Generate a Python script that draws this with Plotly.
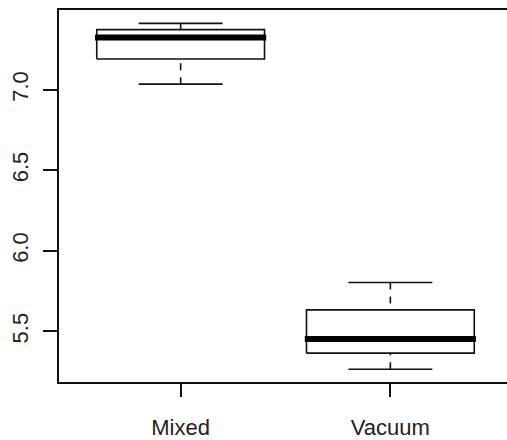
import plotly.graph_objects as go

categories = ["Mixed", "Vacuum"]
lower_whisker = [7.035, 5.265]
q1 = [7.191, 5.365]
median = [7.325, 5.453]
q3 = [7.373, 5.634]
upper_whisker = [7.412, 5.804]
y_ticks = [5.5, 6.0, 6.5, 7.0]
y_tick_labels = ["5.5", "6.0", "6.5", "7.0"]

BOX_HALF = 0.4
STAPLE_HALF = 0.2
LINE_COLOR = "#111111"
LW = 1.6
FONT = dict(family="Liberation Sans, Arial, sans-serif", size=22, color="#222222")

fig = go.Figure()
for i, cat in enumerate(categories):
    c = i + 1
    for end, hinge in ((lower_whisker[i], q1[i]), (upper_whisker[i], q3[i])):
        fig.add_trace(go.Scatter(x=[c, c], y=[end, hinge], mode="lines",
                                 line=dict(color=LINE_COLOR, width=LW, dash="7px,7px"),
                                 hoverinfo="skip"))
        fig.add_trace(go.Scatter(x=[c - STAPLE_HALF, c + STAPLE_HALF], y=[end, end], mode="lines",
                                 line=dict(color=LINE_COLOR, width=LW), hoverinfo="skip"))
    fig.add_trace(go.Scatter(
        x=[c - BOX_HALF, c + BOX_HALF, c + BOX_HALF, c - BOX_HALF, c - BOX_HALF],
        y=[q1[i], q1[i], q3[i], q3[i], q1[i]], mode="lines",
        line=dict(color=LINE_COLOR, width=LW), hoverinfo="skip", name=cat))
    fig.add_trace(go.Scatter(x=[c - BOX_HALF - 0.008, c + BOX_HALF + 0.008], y=[median[i], median[i]],
                             mode="lines", line=dict(color="#000000", width=6), hoverinfo="skip"))

# The R plot region runs slightly past the right edge of the 507px picture;
# the figure is made wider and the window crops it.
fig.update_layout(
    template="none",
    width=530, height=440,
    margin=dict(l=59, r=18, t=10, b=58),
    paper_bgcolor="white", plot_bgcolor="white",
    showlegend=False,
    font=FONT,
    xaxis=dict(range=[0.42, 2.58], tickvals=[1, 2], ticktext=categories,
               ticks="outside", ticklen=13, tickwidth=LW, tickcolor=LINE_COLOR,
               showline=True, linecolor=LINE_COLOR, linewidth=LW, mirror=True,
               showgrid=False, zeroline=False, ticklabelstandoff=12, tickfont=FONT,
               automargin=False),
    yaxis=dict(range=[5.186, 5.186 + 372 / 161.1], tickvals=y_ticks, ticktext=y_tick_labels,
               tickangle=-90, ticks="outside", ticklen=14, tickwidth=LW, tickcolor=LINE_COLOR,
               showline=True, linecolor=LINE_COLOR, linewidth=LW, mirror=True,
               showgrid=False, zeroline=False, ticklabelstandoff=6, tickfont=FONT,
               automargin=False),
)

fig.write_html(
    "out.html",
    config={"displayModeBar": False},
    post_script="document.body.style.margin='0';document.body.style.overflow='hidden';",
)
